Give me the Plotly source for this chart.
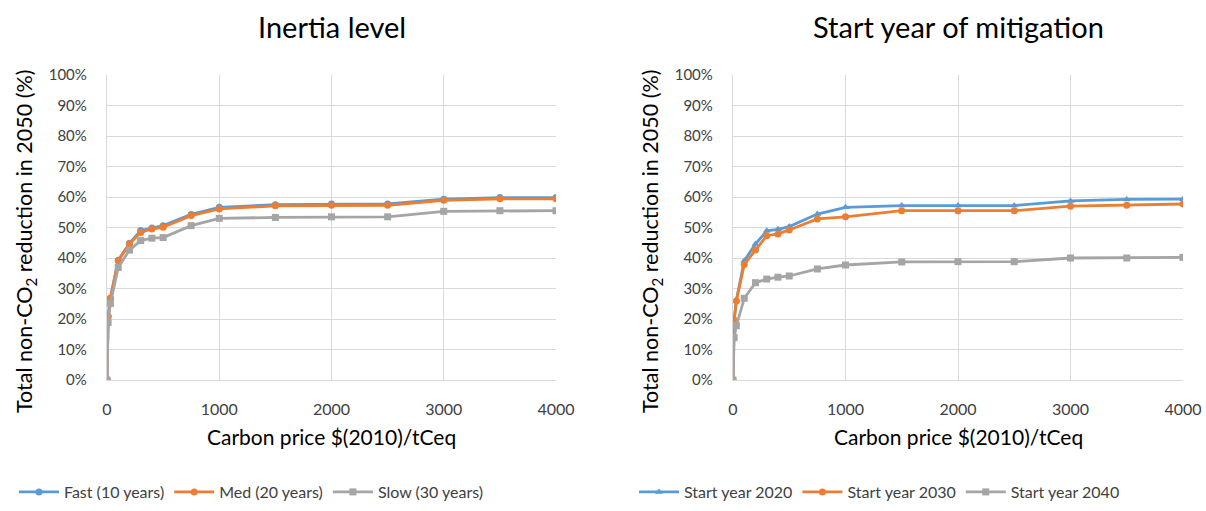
import plotly.graph_objects as go

# Carbon price levels ($(2010)/tCeq)
prices = [0, 10, 30, 100, 200, 300, 400, 500, 750, 1000, 1500, 2000, 2500, 3000, 3500, 4000]

# Left panel: Inertia level (fraction reduction)
fast_10 = [0.0, 0.208, 0.268, 0.393, 0.448, 0.490, 0.498, 0.506, 0.543, 0.566, 0.575, 0.577, 0.577, 0.593, 0.598, 0.598]
med_20 = [0.0, 0.208, 0.268, 0.391, 0.446, 0.484, 0.495, 0.501, 0.539, 0.561, 0.571, 0.573, 0.573, 0.589, 0.594, 0.594]
slow_30 = [0.0, 0.188, 0.251, 0.369, 0.426, 0.457, 0.465, 0.467, 0.506, 0.530, 0.533, 0.535, 0.535, 0.553, 0.555, 0.555]

# Right panel: Start year of mitigation
start_2020 = [0.0, 0.197, 0.262, 0.391, 0.446, 0.489, 0.494, 0.503, 0.544, 0.566, 0.572, 0.572, 0.572, 0.587, 0.592, 0.593]
start_2030 = [0.0, 0.197, 0.259, 0.379, 0.426, 0.473, 0.479, 0.492, 0.528, 0.535, 0.555, 0.555, 0.555, 0.570, 0.573, 0.577]
start_2040 = [0.0, 0.139, 0.178, 0.268, 0.319, 0.331, 0.337, 0.341, 0.364, 0.377, 0.387, 0.388, 0.388, 0.400, 0.400, 0.402]

left_names = ["Fast (10 years)", "Med (20 years)", "Slow (30 years)"]
right_names = ["Start year 2020", "Start year 2030", "Start year 2040"]
titles = ["Inertia level", "Start year of mitigation"]
x_title = "Carbon price $(2010)/tCeq"
y_title = "Total non-CO<sub>2</sub> reduction in 2050 (%)"

BLUE, ORANGE, GRAY = "#5B9BD5", "#ED7D31", "#A5A5A5"
FONT = "Lato, 'Open Sans', sans-serif"

fig = go.Figure()

left_series = [fast_10, med_20, slow_30]
left_sym = ["circle", "circle", "square"]
right_series = [start_2020, start_2030, start_2040]
right_sym = ["triangle-up", "circle", "square"]
colors = [BLUE, ORANGE, GRAY]

for name, ys, sym, c in zip(left_names, left_series, left_sym, colors):
    fig.add_trace(go.Scatter(x=prices, y=ys, name=name, mode="lines+markers",
                             line=dict(color=c, width=2.8),
                             marker=dict(symbol=sym, size=7, color=c),
                             xaxis="x", yaxis="y", legend="legend"))
for name, ys, sym, c in zip(right_names, right_series, right_sym, colors):
    fig.add_trace(go.Scatter(x=prices, y=ys, name=name, mode="lines+markers",
                             line=dict(color=c, width=2.8),
                             marker=dict(symbol=sym, size=7, color=c),
                             xaxis="x2", yaxis="y2", legend="legend2"))

W, H = 1206, 511
ybot, ytop = 1 - 380 / H, 1 - 75 / H
xl = (107 / W, 556 / W)
xr = (733 / W, 1183 / W)

axis_common_x = dict(range=[0, 4000], dtick=1000, showgrid=True, gridcolor="#D9D9D9", gridwidth=1.3,
                     showline=True, linecolor="#D9D9D9", linewidth=1.3, zeroline=False,
                     tickfont=dict(family=FONT, size=16, color="#404040"),
                     ticks="", ticklabelstandoff=15, mirror=False, automargin=False)
axis_common_y = dict(range=[0, 1], dtick=0.1, tickformat=".0%", showgrid=True, gridcolor="#D9D9D9",
                     gridwidth=1.3, showline=True, linecolor="#D9D9D9", linewidth=1.3, zeroline=False,
                     tickfont=dict(family=FONT, size=15, color="#404040"), ticks="",
                     ticklabelstandoff=16, automargin=False)

legend_font = dict(family=FONT, size=16, color="#404040")
fig.update_layout(
    width=W, height=H,
    margin=dict(l=0, r=0, t=0, b=0, autoexpand=False),
    paper_bgcolor="white", plot_bgcolor="white",
    font=dict(family=FONT, color="#404040"),
    xaxis=dict(domain=list(xl), anchor="y", **axis_common_x),
    yaxis=dict(domain=[ybot, ytop], anchor="x", **axis_common_y),
    xaxis2=dict(domain=list(xr), anchor="y2", **axis_common_x),
    yaxis2=dict(domain=[ybot, ytop], anchor="x2", **axis_common_y),
    legend=dict(orientation="h", x=14 / W, y=1 - 492 / H, xanchor="left", yanchor="middle",
                font=legend_font, itemwidth=40, bgcolor="rgba(0,0,0,0)"),
    legend2=dict(orientation="h", x=634 / W, y=1 - 492 / H, xanchor="left", yanchor="middle",
                 font=legend_font, itemwidth=40, bgcolor="rgba(0,0,0,0)"),
    showlegend=True,
)

annotations = []
for t, cx in zip(titles, [(107 + 556) / 2, (733 + 1183) / 2]):
    annotations.append(dict(text=t, x=cx / W, y=1 - 26 / H, xref="paper", yref="paper",
                            showarrow=False, xanchor="center", yanchor="middle",
                            font=dict(family=FONT, size=29, color="#000000")))
for cx in [(107 + 556) / 2, (733 + 1183) / 2]:
    annotations.append(dict(text=x_title, x=cx / W, y=1 - 436 / H, xref="paper", yref="paper",
                            showarrow=False, xanchor="center", yanchor="middle",
                            font=dict(family=FONT, size=21, color="#000000")))
for cx in [25, 651]:
    annotations.append(dict(text=y_title, x=cx / W, y=1 - 242 / H, xref="paper", yref="paper",
                            showarrow=False, xanchor="center", yanchor="middle", textangle=-90,
                            font=dict(family=FONT, size=21.5, color="#000000")))
fig.update_layout(annotations=annotations)

# remove the page's default body margin so the figure sits at the window's top-left corner
fig.write_html("out.html", config={"displayModeBar": False},
               post_script="document.body.style.margin='0';")
